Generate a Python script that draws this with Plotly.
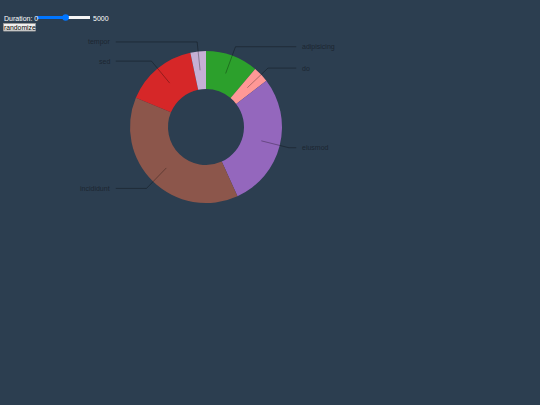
import math
import plotly.graph_objects as go

# Data
labels = ["adipisicing", "do", "eiusmod", "incididunt", "sed", "tempor"]
values = [11.2, 3.4, 28.6, 38.1, 15.4, 3.3]
colors = ["#2ca02c", "#ff9896", "#9467bd", "#8c564b", "#d62728", "#c5b0d5"]
slider_min, slider_max, slider_val = 0, 5000, 2700

W, H = 540, 405
BG = "#2c3e50"
cx, cy = 206, 127
R = 95
outer_r = R * 0.8
inner_r = R * 0.4
label_r = R * 0.9

fig = go.Figure()

fig.add_trace(go.Pie(
    labels=labels, values=values, sort=False, direction="clockwise", rotation=0,
    hole=inner_r / outer_r, textinfo="none", hoverinfo="label+value",
    marker=dict(colors=colors, line=dict(width=0)), showlegend=False,
    domain=dict(x=[(cx - outer_r) / W, (cx + outer_r) / W],
                y=[1 - (cy + outer_r) / H, 1 - (cy - outer_r) / H]),
))

total = sum(values)
cum = 0.0
for lab, v in zip(labels, values):
    mid = 2 * math.pi * (cum + v / 2) / total
    cum += v
    s, c = math.sin(mid), math.cos(mid)
    rc = (inner_r + outer_r) / 2
    p1 = (cx + rc * s, cy - rc * c)
    p2 = (cx + label_r * s, cy - label_r * c)
    side = 1 if mid < math.pi else -1
    p3 = (cx + R * 0.95 * side, p2[1])
    fig.add_shape(type="path", layer="above", xref="x", yref="y",
                  path=f"M {p1[0]:.2f},{p1[1]:.2f} L {p2[0]:.2f},{p2[1]:.2f} L {p3[0]:.2f},{p3[1]:.2f}",
                  line=dict(color="rgba(0,0,0,0.3)", width=1))
    fig.add_annotation(x=cx + R * side, y=p2[1], text=lab, showarrow=False,
                       xanchor="left" if side > 0 else "right", yanchor="middle",
                       font=dict(size=7, color="#1c2630", family="Liberation Sans, Arial"),
                       borderpad=0)

# Controls (slider + button)
tx0, tx1 = 37, 90
kx = tx0 + (tx1 - tx0) * (slider_val - slider_min) / (slider_max - slider_min)
fig.add_shape(type="line", x0=tx0, x1=tx1, y0=17.5, y1=17.5, line=dict(color="#f4f4f4", width=3))
fig.add_shape(type="line", x0=tx0, x1=kx, y0=17.5, y1=17.5, line=dict(color="#0075ff", width=3))
fig.add_shape(type="circle", x0=kx - 3.3, x1=kx + 3.3, y0=14.2, y1=20.8,
              fillcolor="#0075ff", line=dict(width=0))
fig.add_annotation(x=3, y=18, text=f"Duration: {slider_min}", showarrow=False, xanchor="left",
                   yanchor="middle", borderpad=0,
                   font=dict(size=7, color="#ffffff", family="Liberation Sans, Arial"))
fig.add_annotation(x=tx1 + 2, y=18, text=f"{slider_max}", showarrow=False, xanchor="left",
                   yanchor="middle", borderpad=0,
                   font=dict(size=7, color="#ffffff", family="Liberation Sans, Arial"))
fig.add_shape(type="rect", x0=3.5, x1=35.5, y0=23.5, y1=31, fillcolor="#f0f0f0",
              line=dict(color="#9a9a9a", width=1))
fig.add_annotation(x=19.5, y=27.3, text="randomize", showarrow=False, xanchor="center",
                   yanchor="middle", borderpad=0,
                   font=dict(size=6.8, color="#000000", family="Liberation Sans, Arial"))

fig.update_layout(
    width=W, height=H, margin=dict(l=0, r=0, t=0, b=0),
    paper_bgcolor=BG, plot_bgcolor=BG,
    xaxis=dict(range=[0, W], visible=False, fixedrange=True),
    yaxis=dict(range=[H, 0], visible=False, fixedrange=True),
)

fig.write_html("out.html", config={"displayModeBar": False},
               post_script="document.body.style.margin='0';document.body.style.background='#2c3e50';document.body.style.overflow='hidden';")
